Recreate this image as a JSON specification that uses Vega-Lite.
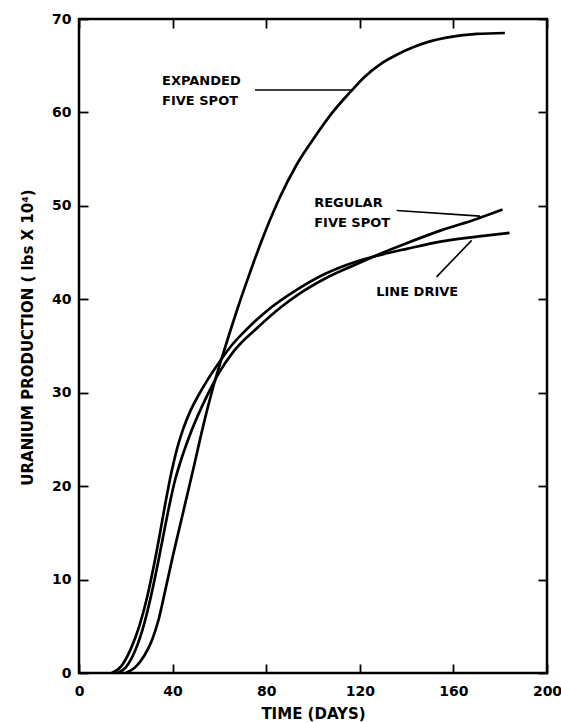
{
  "$schema": "https://vega.github.io/schema/vega-lite/v6.json",
  "width": 468,
  "height": 654,
  "autosize": {"type": "none"},
  "padding": {"left": 79, "top": 19, "right": 14, "bottom": 49},
  "background": "white",
  "config": {
    "view": {"stroke": "black", "strokeWidth": 2.5},
    "font": "DejaVu Sans",
    "axis": {
      "domain": false,
      "grid": false,
      "tickColor": "black",
      "tickWidth": 1.8,
      "tickSize": -9,
      "labelColor": "black",
      "labelFont": "DejaVu Sans",
      "labelFontSize": 14,
      "labelFontWeight": "bold",
      "titleColor": "black",
      "titleFont": "DejaVu Sans",
      "titleFontWeight": "bold"
    }
  },
  "layer": [
    {
      "data": {
        "values": [
          {"series": "Expanded five spot", "day": 20, "value": 0},
          {"series": "Expanded five spot", "day": 24, "value": 0.6},
          {"series": "Expanded five spot", "day": 28, "value": 1.9},
          {"series": "Expanded five spot", "day": 31, "value": 3.4},
          {"series": "Expanded five spot", "day": 34, "value": 5.7},
          {"series": "Expanded five spot", "day": 37, "value": 9},
          {"series": "Expanded five spot", "day": 40, "value": 12.4},
          {"series": "Expanded five spot", "day": 43, "value": 15.6},
          {"series": "Expanded five spot", "day": 46, "value": 18.8},
          {"series": "Expanded five spot", "day": 49, "value": 22},
          {"series": "Expanded five spot", "day": 52, "value": 25.3},
          {"series": "Expanded five spot", "day": 55, "value": 28.4},
          {"series": "Expanded five spot", "day": 58, "value": 31.2},
          {"series": "Expanded five spot", "day": 61, "value": 33.7},
          {"series": "Expanded five spot", "day": 64.5, "value": 36.5},
          {"series": "Expanded five spot", "day": 68, "value": 39.2},
          {"series": "Expanded five spot", "day": 72, "value": 42.1},
          {"series": "Expanded five spot", "day": 76, "value": 44.9},
          {"series": "Expanded five spot", "day": 80, "value": 47.5},
          {"series": "Expanded five spot", "day": 86, "value": 51},
          {"series": "Expanded five spot", "day": 93, "value": 54.4},
          {"series": "Expanded five spot", "day": 100, "value": 57.1},
          {"series": "Expanded five spot", "day": 108, "value": 59.9},
          {"series": "Expanded five spot", "day": 116, "value": 62.2},
          {"series": "Expanded five spot", "day": 122, "value": 63.8},
          {"series": "Expanded five spot", "day": 129, "value": 65.2},
          {"series": "Expanded five spot", "day": 136, "value": 66.2},
          {"series": "Expanded five spot", "day": 143, "value": 67},
          {"series": "Expanded five spot", "day": 150, "value": 67.6},
          {"series": "Expanded five spot", "day": 157, "value": 68},
          {"series": "Expanded five spot", "day": 170, "value": 68.4},
          {"series": "Expanded five spot", "day": 182, "value": 68.5},

          {"series": "Regular five spot", "day": 16.5, "value": 0},
          {"series": "Regular five spot", "day": 20, "value": 0.6},
          {"series": "Regular five spot", "day": 24, "value": 2.4},
          {"series": "Regular five spot", "day": 28, "value": 5.4},
          {"series": "Regular five spot", "day": 31, "value": 8.5},
          {"series": "Regular five spot", "day": 34, "value": 12.1},
          {"series": "Regular five spot", "day": 36.5, "value": 15.3},
          {"series": "Regular five spot", "day": 39, "value": 18.4},
          {"series": "Regular five spot", "day": 41, "value": 20.6},
          {"series": "Regular five spot", "day": 43.5, "value": 22.7},
          {"series": "Regular five spot", "day": 48.2, "value": 26},
          {"series": "Regular five spot", "day": 54.6, "value": 29.6},
          {"series": "Regular five spot", "day": 60, "value": 32.2},
          {"series": "Regular five spot", "day": 66, "value": 34.4},
          {"series": "Regular five spot", "day": 76, "value": 36.9},
          {"series": "Regular five spot", "day": 86, "value": 39.1},
          {"series": "Regular five spot", "day": 93, "value": 40.4},
          {"series": "Regular five spot", "day": 105, "value": 42.2},
          {"series": "Regular five spot", "day": 118, "value": 43.7},
          {"series": "Regular five spot", "day": 128, "value": 44.8},
          {"series": "Regular five spot", "day": 140, "value": 46},
          {"series": "Regular five spot", "day": 155, "value": 47.4},
          {"series": "Regular five spot", "day": 170, "value": 48.6},
          {"series": "Regular five spot", "day": 181, "value": 49.6},

          {"series": "Line drive", "day": 14, "value": 0},
          {"series": "Line drive", "day": 18, "value": 0.7},
          {"series": "Line drive", "day": 22, "value": 2.5},
          {"series": "Line drive", "day": 26, "value": 5.2},
          {"series": "Line drive", "day": 29, "value": 8},
          {"series": "Line drive", "day": 32, "value": 11.5},
          {"series": "Line drive", "day": 34.5, "value": 14.8},
          {"series": "Line drive", "day": 37, "value": 18.3},
          {"series": "Line drive", "day": 39.6, "value": 21.6},
          {"series": "Line drive", "day": 42, "value": 24.1},
          {"series": "Line drive", "day": 44.5, "value": 26.1},
          {"series": "Line drive", "day": 47.5, "value": 28},
          {"series": "Line drive", "day": 51, "value": 29.7},
          {"series": "Line drive", "day": 55, "value": 31.4},
          {"series": "Line drive", "day": 59.5, "value": 33.1},
          {"series": "Line drive", "day": 65, "value": 35},
          {"series": "Line drive", "day": 71.7, "value": 36.8},
          {"series": "Line drive", "day": 80, "value": 38.7},
          {"series": "Line drive", "day": 93, "value": 41},
          {"series": "Line drive", "day": 105, "value": 42.7},
          {"series": "Line drive", "day": 118, "value": 44},
          {"series": "Line drive", "day": 128, "value": 44.7},
          {"series": "Line drive", "day": 140, "value": 45.4},
          {"series": "Line drive", "day": 155, "value": 46.2},
          {"series": "Line drive", "day": 170, "value": 46.7},
          {"series": "Line drive", "day": 184, "value": 47.1}
        ]
      },
      "mark": {"type": "line", "color": "black", "strokeWidth": 2.7, "interpolate": "monotone"},
      "encoding": {
        "x": {
          "field": "day", "type": "quantitative",
          "scale": {"domain": [0, 200], "nice": false, "zero": false},
          "axis": {"orient": "bottom", "values": [0, 40, 80, 120, 160, 200], "title": "TIME (DAYS)", "titleFontSize": 15, "titlePadding": 8, "labelPadding": 20, "labelFlush": false}
        },
        "y": {
          "field": "value", "type": "quantitative",
          "scale": {"domain": [0, 70], "nice": false},
          "axis": {"orient": "left", "values": [0, 10, 20, 30, 40, 50, 60, 70], "title": "URANIUM  PRODUCTION ( lbs X 10⁴)", "titleFontSize": 15, "titlePadding": 16, "titleY": 318, "labelPadding": 17, "labelFlush": false}
        },
        "detail": {"field": "series", "type": "nominal"}
      }
    },
    {
      "data": {
        "values": [
          {"x1": 75.2, "y1": 62.4, "x2": 116.5, "y2": 62.4},
          {"x1": 135.8, "y1": 49.5, "x2": 171.4, "y2": 48.9},
          {"x1": 152.8, "y1": 42.4, "x2": 167.8, "y2": 46.3}
        ]
      },
      "mark": {"type": "rule", "color": "black", "strokeWidth": 1.6},
      "encoding": {
        "x": {"field": "x1", "type": "quantitative", "axis": {"orient": "top", "values": [0, 40, 80, 120, 160, 200], "labels": false, "title": null}},
        "y": {"field": "y1", "type": "quantitative", "axis": {"orient": "right", "values": [0, 10, 20, 30, 40, 50, 60, 70], "labels": false, "title": null}},
        "x2": {"field": "x2"},
        "y2": {"field": "y2"}
      }
    },
    {
      "data": {
        "values": [
          {"label": "EXPANDED", "day": 35.5, "value": 63.4},
          {"label": "FIVE SPOT", "day": 35.5, "value": 61.2},
          {"label": "REGULAR", "day": 100.5, "value": 50.3},
          {"label": "FIVE SPOT", "day": 100.5, "value": 48.2},
          {"label": "LINE DRIVE", "day": 127, "value": 40.8}
        ]
      },
      "mark": {"type": "text", "align": "left", "baseline": "middle", "fontSize": 13, "fontWeight": "bold", "font": "DejaVu Sans", "color": "black"},
      "encoding": {
        "x": {"field": "day", "type": "quantitative", "axis": null},
        "y": {"field": "value", "type": "quantitative", "axis": null},
        "text": {"field": "label"}
      }
    }
  ],
  "resolve": {"axis": {"x": "independent", "y": "independent"}}
}
